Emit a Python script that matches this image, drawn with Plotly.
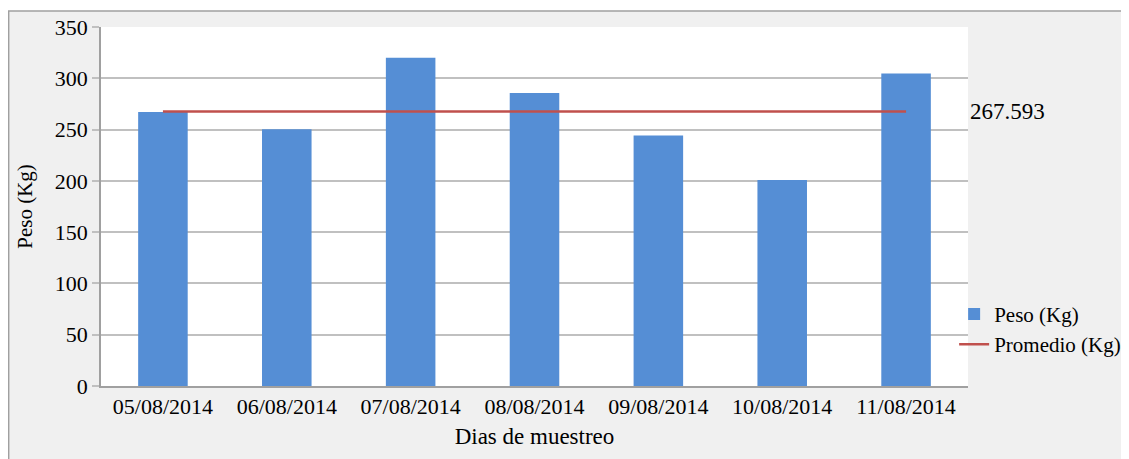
import plotly.graph_objects as go

# === DATA ===
dias = ["05/08/2014", "06/08/2014", "07/08/2014", "08/08/2014",
        "09/08/2014", "10/08/2014", "11/08/2014"]
peso = [267.2, 250.4, 320.1, 285.6, 244.3, 200.9, 304.65]
promedio = 267.593
promedio_serie = [promedio] * len(dias)

FONT = "Liberation Serif, Times New Roman, serif"

fig = go.Figure()
fig.add_trace(go.Bar(
    x=dias, y=peso, name="Peso (Kg)",
    marker=dict(color="#558ED5", line=dict(width=0)),
))
fig.add_trace(go.Scatter(
    x=dias, y=promedio_serie, name="Promedio (Kg)",
    mode="lines", line=dict(color="#C0504D", width=2.5),
))

# marco gris del grafico + area blanca del plot
fig.add_shape(type="rect", xref="paper", yref="paper",
              x0=-0.1065, x1=1.4, y0=-0.4, y1=1.0446,
              fillcolor="#F0F0F0", line=dict(color="#A0A0A0", width=1.5),
              layer="below")
fig.add_shape(type="rect", xref="paper", yref="paper",
              x0=0, x1=1, y0=0, y1=1,
              fillcolor="white", line=dict(width=0), layer="below")

fig.add_annotation(
    x=1, xref="paper", xanchor="left", xshift=0,
    y=promedio, yref="y", yanchor="middle",
    text=f"{promedio:.3f}", showarrow=False,
    font=dict(family=FONT, size=23, color="black"),
)

fig.update_layout(
    width=1129, height=459,
    margin=dict(l=93, r=169, t=19, b=81, autoexpand=False),
    paper_bgcolor="white",
    plot_bgcolor="white",
    font=dict(family=FONT, size=22, color="black"),
    bargap=0.6,
    showlegend=True,
    legend=dict(
        x=0.984, xanchor="left", y=0.158, yanchor="middle",
        bgcolor="rgba(0,0,0,0)", font=dict(family=FONT, size=21),
        itemwidth=30, tracegroupgap=0,
    ),
    xaxis=dict(
        title=dict(text="Dias de muestreo", font=dict(size=23), standoff=10),
        showline=True, linecolor="#A0A0A0", linewidth=1.5,
        ticks="", showgrid=False,
        tickfont=dict(size=22),
    ),
    yaxis=dict(
        title=dict(text="Peso (Kg)", font=dict(size=21), standoff=16),
        range=[0, 350], dtick=50,
        showline=True, linecolor="#A0A0A0", linewidth=1.5,
        gridcolor="#C0C0C0", gridwidth=1.5,
        ticks="outside", ticklen=7, tickcolor="#C0C0C0", tickwidth=1.5,
        tickfont=dict(size=22),
        zeroline=False,
    ),
)

fig.write_html("out.html")
